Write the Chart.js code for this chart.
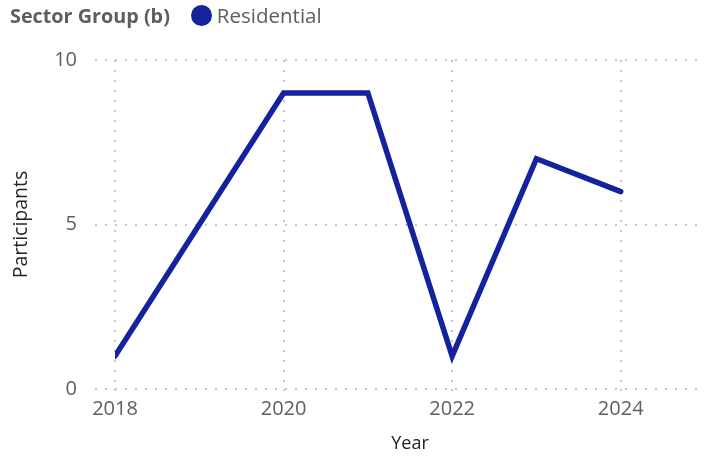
<!DOCTYPE html>
<html>
<head>
<meta charset="utf-8">
<script src="https://cdn.jsdelivr.net/npm/chart.js@4"></script>
<style>
  html, body { margin: 0; padding: 0; background: #fff; }
  #wrap { position: relative; width: 710px; height: 459px; }
  #legend { position: absolute; left: 10px; top: 1px; font-family: "Open Sans", "Noto Sans", sans-serif; font-size: 20.5px; color: #605e5c; display: flex; align-items: center; white-space: nowrap; }
  #legend .title { font-weight: bold; font-size: 19.8px; margin-right: 21px; }
  #legend .dot { display: inline-block; width: 21px; height: 21px; border-radius: 50%; margin-right: 5px; }
</style>
</head>
<body>
<div id="wrap">
  <canvas id="c" width="710" height="459"></canvas>
  <div id="legend"></div>
</div>
<script>
const legendTitle = "Sector Group (b)";
const seriesName = "Residential";
const years = [2018, 2020, 2021, 2022, 2023, 2024];
const participants = [1, 9, 9, 1, 7, 6];
const xTicks = [2018, 2020, 2022, 2024];
const yTicks = [0, 5, 10];
const lineColor = "#14229e";

const points = years.map((y, i) => ({ x: y, y: participants[i] }));
const font = "'Open Sans', 'Noto Sans', sans-serif";
const dots = [2, 8];

const chart = new Chart(document.getElementById('c'), {
  type: 'line',
  data: {
    datasets: [{
      label: seriesName,
      data: points,
      borderColor: lineColor,
      backgroundColor: lineColor,
      borderWidth: 5.5,
      pointRadius: 0,
      tension: 0,
      borderCapStyle: 'round',
      borderJoinStyle: 'miter'
    }]
  },
  options: {
    responsive: false,
    animation: false,
    layout: { padding: { top: 60, right: 5, left: 10, bottom: 0 } },
    plugins: { legend: { display: false }, tooltip: { enabled: false } },
    scales: {
      x: {
        type: 'linear',
        min: 2018, max: 2025,
        afterBuildTicks: s => { s.ticks = xTicks.map(v => ({ value: v })); },
        afterFit: s => { s.height = 70; },
        ticks: { color: '#605e5c', font: { family: font, size: 20 }, padding: 2, callback: v => String(v) },
        grid: { color: '#c8c8c8', lineWidth: 2, tickLength: 6, tickBorderDash: dots },
        border: { display: false, dash: dots },
        title: { display: true, text: 'Year', color: '#252423', font: { family: font, size: 18 }, padding: { top: 0 } }
      },
      y: {
        min: 0, max: 10,
        afterBuildTicks: s => { s.ticks = yTicks.map(v => ({ value: v })); },
        afterFit: s => { s.width = 105; },
        ticks: { color: '#605e5c', font: { family: font, size: 20 }, padding: 18 },
        grid: { color: '#c8c8c8', lineWidth: 2, tickLength: 20, tickBorderDash: dots },
        border: { display: false, dash: dots },
        title: { display: true, text: 'Participants', color: '#252423', font: { family: font, size: 19.5 }, padding: { top: 0, bottom: 0 } }
      }
    }
  }
});

const lg = document.getElementById('legend');
const t = document.createElement('span'); t.className = 'title'; t.textContent = legendTitle; lg.appendChild(t);
chart.data.datasets.forEach(ds => {
  const d = document.createElement('span'); d.className = 'dot'; d.style.background = ds.borderColor; lg.appendChild(d);
  const l = document.createElement('span'); l.textContent = ds.label; lg.appendChild(l);
});
</script>
</body>
</html>
